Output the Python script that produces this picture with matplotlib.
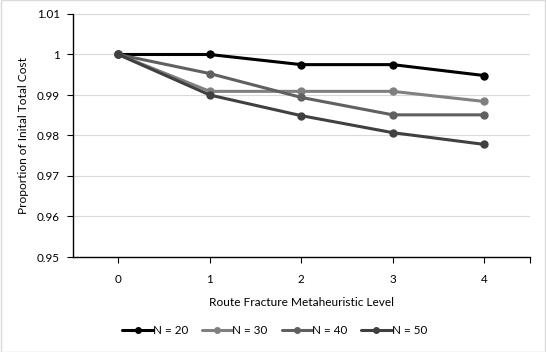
import matplotlib
matplotlib.use("Agg")
import matplotlib.pyplot as plt
from matplotlib.patches import Rectangle

plt.rcParams['font.family'] = ['Lato', 'DejaVu Sans']

levels = [0, 1, 2, 3, 4]
n20 = [1.0, 1.0, 0.9975, 0.9975, 0.9948]
n30 = [1.0, 0.9909, 0.9909, 0.9909, 0.9884]
n40 = [1.0, 0.9953, 0.9894, 0.9851, 0.9851]
n50 = [1.0, 0.9900, 0.9849, 0.9807, 0.9778]
series_labels = ["N = 20", "N = 30", "N = 40", "N = 50"]
colors = ["#000000", "#808080", "#606060", "#404040"]
yticks = [0.95, 0.96, 0.97, 0.98, 0.99, 1.0, 1.01]
ytick_labels = ["0.95", "0.96", "0.97", "0.98", "0.99", "1", "1.01"]

fig = plt.figure(figsize=(5.46, 3.52), dpi=100)
ax = fig.add_axes([72.5/546, 1-257/352, (530-72.5)/546, (257-14)/352])

for vals, lab, c in zip([n20, n30, n40, n50], series_labels, colors):
    ax.plot(levels, vals, color=c, lw=2.2, marker='o', ms=5, label=lab,
            solid_capstyle='round')

ax.set_xlim(-0.5, 4.5)
ax.set_ylim(0.95, 1.01)
ax.set_yticks(yticks)
ax.set_yticklabels(ytick_labels)
ax.set_xticks(levels + [4.5])
ax.set_xticklabels([str(l) for l in levels] + [""])
ax.yaxis.grid(True, color="#d9d9d9", lw=0.8)
ax.set_axisbelow(True)
for s in ['top', 'right']:
    ax.spines[s].set_visible(False)
for s in ['left', 'bottom']:
    ax.spines[s].set_color('black')
    ax.spines[s].set_linewidth(1.0)
ax.tick_params(axis='both', labelsize=8.4, length=4, width=0.8, color='#000000', pad=5)
ax.tick_params(axis='x', pad=8)
ax.set_xlabel("Route Fracture Metaheuristic Level", fontsize=8.6, labelpad=9)
ax.set_ylabel("Proportion of Inital Total Cost", fontsize=8.6, labelpad=6)

leg = fig.legend(loc='center', bbox_to_anchor=(0.503, 1-331/352), ncol=4, frameon=False,
                 fontsize=8.4, handlelength=2.6, handletextpad=0.0, columnspacing=1.2,
                 markerscale=0.8)

fig.patches.append(Rectangle((0.001, 0.001), 0.998, 0.998, transform=fig.transFigure,
                             fill=False, edgecolor="#d9d9d9", lw=1))

fig.savefig("out.png", dpi=100)
